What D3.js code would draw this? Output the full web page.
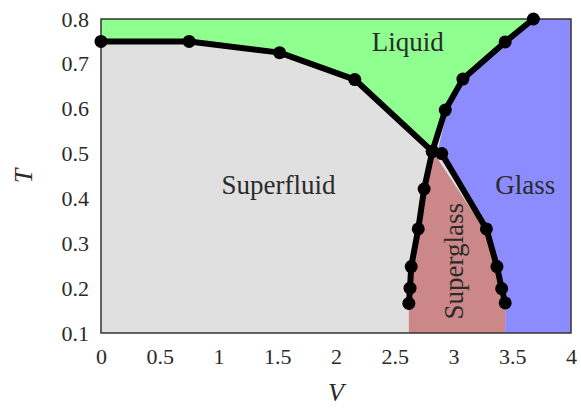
<!DOCTYPE html>
<html><head><meta charset="utf-8">
<script src="https://cdn.jsdelivr.net/npm/d3@7"></script>
<style>body{margin:0;background:#fff}</style>
</head><body><svg id="c" width="581" height="409"></svg>
<script>
// Phase boundary lines (V, T)
const superfluidLiquid = [[0,0.75],[0.75,0.75],[1.52,0.725],[2.16,0.665],[2.82,0.505]];
const liquidGlass = [[2.82,0.505],[2.93,0.597],[3.08,0.666],[3.44,0.749],[3.68,0.8]];
const superfluidSuperglass = [[2.82,0.505],[2.75,0.421],[2.70,0.332],[2.64,0.248],[2.63,0.2],[2.62,0.166]];
const superglassGlass = [[2.90,0.5],[3.28,0.332],[3.37,0.248],[3.41,0.199],[3.44,0.167]];
// Region fills (V, T)
const liquidRegion = [[0,0.8],[0,0.75],[0.75,0.75],[1.52,0.725],[2.16,0.665],[2.82,0.51],[2.93,0.597],[3.08,0.666],[3.44,0.749],[3.68,0.8]];
const glassRegion = [[2.86,0.5],[2.90,0.545],[2.95,0.595],[3.09,0.664],[3.44,0.749],[3.68,0.8],[4,0.8],[4,0.1],[3.44,0.1],[3.44,0.167],[3.41,0.199],[3.37,0.248],[3.28,0.332]];
const superglassRegion = [[2.82,0.5],[2.86,0.49],[3.26,0.332],[3.37,0.248],[3.41,0.199],[3.44,0.167],[3.44,0.1],[2.62,0.1],[2.62,0.166],[2.63,0.2],[2.64,0.248],[2.70,0.332],[2.75,0.421]];
const xTicks = [0,0.5,1,1.5,2,2.5,3,3.5,4];
const yTicks = [0.1,0.2,0.3,0.4,0.5,0.6,0.7,0.8];
const labels = [{t:"Liquid",v:2.61,T:0.749,r:0},{t:"Superfluid",v:1.51,T:0.43,r:0},{t:"Glass",v:3.61,T:0.43,r:0},{t:"Superglass",v:3.0,T:0.26,r:-90}];

const svg = d3.select("#c");
const x = d3.scaleLinear().domain([0,4]).range([101,571]);
const y = d3.scaleLinear().domain([0.1,0.8]).range([333,19]);
const font = "'Liberation Serif','DejaVu Serif',serif";
const poly = d3.line().x(d=>x(d[0])).y(d=>y(d[1]));

svg.append("rect").attr("x",x(0)).attr("y",y(0.8)).attr("width",x(4)-x(0)).attr("height",y(0.1)-y(0.8)).attr("fill","#e0e0e0");
svg.append("path").attr("d",poly(liquidRegion)+"Z").attr("fill","#8fff8f");
svg.append("path").attr("d",poly(glassRegion)+"Z").attr("fill","#8c8cff");
svg.append("path").attr("d",poly(superglassRegion)+"Z").attr("fill","#cc8888");

svg.append("rect").attr("x",x(0)).attr("y",y(0.8)).attr("width",x(4)-x(0)).attr("height",y(0.1)-y(0.8)).attr("fill","none").attr("stroke","#333").attr("stroke-width",1.5);

[superfluidLiquid,liquidGlass,superfluidSuperglass,superglassGlass].forEach(l=>{
  svg.append("path").attr("d",poly(l)).attr("fill","none").attr("stroke","#000").attr("stroke-width",6).attr("stroke-linejoin","round").attr("stroke-linecap","round");
  svg.selectAll(null).data(l).enter().append("circle").attr("cx",d=>x(d[0])).attr("cy",d=>y(d[1])).attr("r",6.5).attr("fill","#000");
});

labels.forEach(d=>{
  svg.append("text").attr("transform",`translate(${x(d.v)},${y(d.T)}) rotate(${d.r})`).attr("text-anchor","middle").attr("dominant-baseline","central")
    .attr("font-family",font).attr("font-size",27).attr("fill","#2a2a2a").text(d.t);
});

const xa = svg.append("g").attr("transform",`translate(0,${y(0.1)})`).call(d3.axisBottom(x).tickValues(xTicks).tickSize(0).tickPadding(15).tickFormat(d3.format("")));
const ya = svg.append("g").attr("transform",`translate(${x(0)},0)`).call(d3.axisLeft(y).tickValues(yTicks).tickSize(0).tickPadding(12).tickFormat(d3.format("")));
[xa,ya].forEach(a=>{a.select(".domain").remove();a.selectAll("text").attr("font-family",font).attr("font-size",22).attr("fill","#2a2a2a");});

svg.append("text").attr("x",x(2)).attr("y",401).attr("text-anchor","middle").attr("font-family",font).attr("font-style","italic").attr("font-size",26).attr("fill","#2a2a2a").text("V");
svg.append("text").attr("transform",`translate(32,${y(0.45)}) rotate(-90)`).attr("text-anchor","middle").attr("font-family",font).attr("font-style","italic").attr("font-size",26).attr("fill","#2a2a2a").text("T");
</script></body></html>
